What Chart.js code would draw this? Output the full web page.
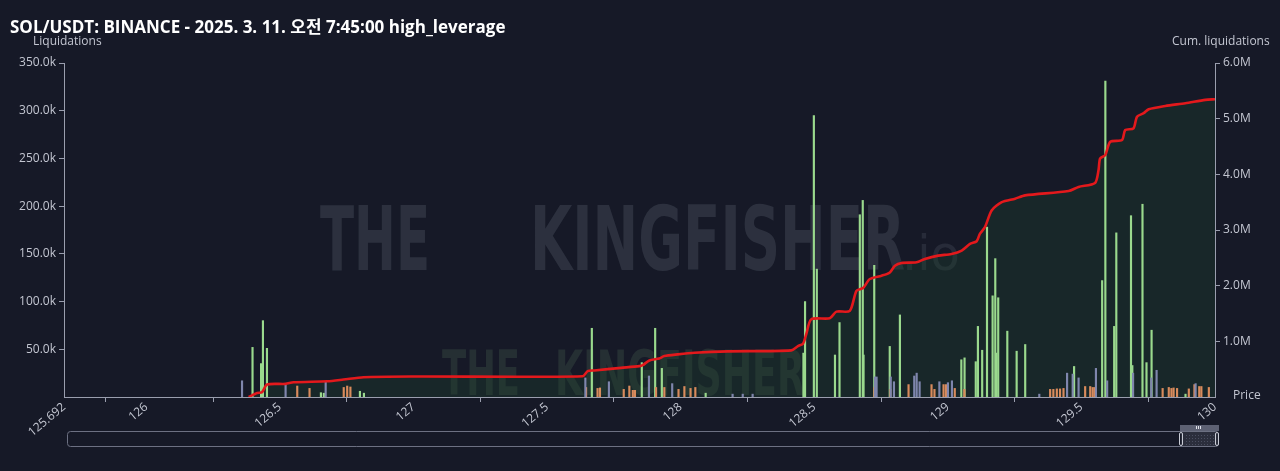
<!DOCTYPE html>
<html>
<head>
<meta charset="utf-8">
<script src="https://cdn.jsdelivr.net/npm/chart.js@4/dist/chart.umd.min.js"></script>
<style>
  html, body { margin: 0; padding: 0; background: #161927; }
  #wrap { width: 1280px; height: 471px; }
</style>
</head>
<body>
<div id="wrap"><canvas id="c" width="1280" height="471"></canvas></div>
<script>
"use strict";
// price axis ticks
const xTicks = [125.692, 126, 126.5, 127, 127.5, 128, 128.5, 129, 129.5, 130];

// liquidation bars (price, value in k)
const greenPrice = [126.392, 126.424, 126.431, 126.446, 126.648, 126.659, 126.794, 126.809,
  127.662, 127.849, 127.899, 127.924, 128.088, 128.454, 128.460, 128.493, 128.504, 128.572,
  128.589, 128.665, 128.676, 128.679, 128.719, 128.777, 128.815, 129.045, 129.057, 129.099,
  129.107, 129.123, 129.141, 129.162, 129.172, 129.176, 129.183, 129.217, 129.252, 129.284,
  129.467, 129.572, 129.584, 129.617, 129.625, 129.680, 129.685, 129.723, 129.738, 129.757, 129.884];
const greenValue = [52, 35, 80, 51, 4.5, 4, 6, 4,
  72, 36, 72, 30, 4, 46, 100, 295, 134, 44,
  78, 191, 206, 44, 138, 53, 86, 39, 41, 37,
  74, 49, 178, 106, 145, 46, 104, 69, 48, 55,
  32, 122, 331, 74, 172, 190, 33, 202, 36, 70, 3];

const orangePrice = [126.565, 126.611, 126.739, 126.752, 126.764, 127.646, 127.689, 127.698,
  127.787, 127.808, 127.821, 127.829, 127.908, 127.939, 127.992, 128.014, 128.037, 128.055,
  128.725, 128.785, 128.853, 128.939, 128.950, 128.984, 128.993, 129.026, 129.062,
  129.383, 129.395, 129.408, 129.420, 129.433, 129.514, 129.533, 129.542, 129.549,
  129.804, 129.827, 129.837, 129.845, 129.858, 129.902, 129.923, 129.941, 129.949, 129.977];
const orangeValue = [11.5, 9, 10, 11.5, 10.5, 10, 9, 9.5,
  8, 11.5, 7, 7, 10, 10, 8, 11, 9, 10,
  10, 8, 13, 13, 8, 13, 13, 9, 8,
  8, 8, 8.5, 8.5, 9, 11, 11, 10, 10,
  9, 10, 9, 9.5, 9, 8.5, 13, 11, 11, 10];

const grayPrice = [126.364, 126.527, 126.677, 127.649, 127.737, 127.887, 127.974, 128.200,
  128.238, 128.275, 128.733, 128.739, 128.792, 128.804, 128.880, 128.889, 128.900, 128.974,
  129.006, 129.021, 129.348, 129.452, 129.473, 129.495, 129.560, 129.602, 129.699, 129.767,
  129.787, 129.933];
const grayValue = [17, 12.6, 16, 20, 16, 22, 14, 3,
  3, 3, 21, 21, 21, 16, 22, 25, 16, 16,
  15, 17, 3, 25, 24, 20, 30, 17, 25, 20,
  28, 14];

// cumulative liquidations (price, value in M)
const cumPrice = [126.383, 126.415, 126.433, 126.452, 126.521, 126.551, 126.677, 126.738, 126.813,
  127.001, 127.633, 127.652, 127.677, 127.777, 127.845, 127.858, 127.883, 127.920, 127.939,
  127.989, 128.052, 128.177, 128.414, 128.439, 128.458, 128.470, 128.489, 128.558, 128.583,
  128.633, 128.658, 128.683, 128.708, 128.752, 128.783, 128.802, 128.827, 128.883, 128.914,
  128.964, 129.014, 129.052, 129.083, 129.108, 129.120, 129.139, 129.164, 129.202, 129.252,
  129.289, 129.452, 129.489, 129.551, 129.564, 129.570, 129.589, 129.608, 129.652, 129.664,
  129.695, 129.708, 129.733, 129.752, 129.814, 129.889, 129.964, 130.0];
const cumValue = [0, 0.072, 0.085, 0.224, 0.235, 0.265, 0.283, 0.314, 0.356,
  0.368, 0.374, 0.464, 0.477, 0.523, 0.554, 0.572, 0.657, 0.693, 0.735,
  0.765, 0.794, 0.820, 0.838, 0.915, 0.957, 1.126, 1.397, 1.415, 1.534,
  1.547, 1.908, 1.957, 2.119, 2.179, 2.238, 2.359, 2.408, 2.419, 2.480,
  2.540, 2.570, 2.630, 2.751, 2.798, 2.931, 3.051, 3.352, 3.502, 3.563,
  3.622, 3.700, 3.773, 3.845, 4.074, 4.285, 4.345, 4.585, 4.616, 4.796,
  4.827, 5.036, 5.098, 5.170, 5.229, 5.278, 5.338, 5.350];

const TITLE = "SOL/USDT: BINANCE - 2025. 3. 11. 오전 7:45:00 high_leverage";
const FONT = '"Open Sans", "Noto Sans", "Noto Sans CJK KR", sans-serif';
const AXIS = "#9a9eae", TICK = "#c3c6d1", BG = "#161927";

const pts = (xs, ys) => xs.map((x, i) => ({ x, y: ys[i] }));

/* background, watermark, title, axis captions, range slider */
const decor = {
  id: "decor",
  beforeDraw(chart) {
    const ctx = chart.ctx;
    ctx.save();
    ctx.fillStyle = BG; ctx.fillRect(0, 0, chart.width, chart.height);
    const mark = (txt, x0, base, w, size, col) => {
      ctx.font = `bold ${size}px "DejaVu Sans"`;
      const m = ctx.measureText(txt).width;
      ctx.save(); ctx.translate(x0, base); ctx.scale(w / m, 1);
      ctx.fillStyle = col; ctx.fillText(txt, 0, 0); ctx.restore();
    };
    ctx.textBaseline = "alphabetic";
    mark("THE", 320, 270, 110, 89, "rgba(72,77,92,0.45)");
    mark("KINGFISHER", 530, 270, 375, 89, "rgba(72,77,92,0.45)");
    ctx.font = `48px "DejaVu Sans"`; ctx.fillStyle = "rgba(72,77,92,0.35)";
    ctx.fillText(".io", 902, 270);
    mark("THE", 442, 395, 78, 62, "rgba(60,80,70,0.40)");
    mark("KINGFISHER", 555, 395, 250, 62, "rgba(60,80,70,0.40)");
    ctx.restore();
  },
  afterDraw(chart) {
    const ctx = chart.ctx;
    ctx.save();
    ctx.fillStyle = "#ffffff";
    ctx.font = `bold 17px ${FONT}`;
    ctx.textBaseline = "middle"; ctx.textAlign = "left";
    ctx.fillText(TITLE, 10, 28);
    ctx.fillStyle = TICK; ctx.font = `12px ${FONT}`;
    ctx.fillText("Liquidations", 33, 42);
    ctx.fillText("Cum. liquidations", 1172, 42);
    ctx.fillText("Price", 1233, 396);
    // slider
    ctx.strokeStyle = "#6c7082"; ctx.lineWidth = 1;
    ctx.beginPath(); ctx.roundRect(67.5, 431.5, 1151, 15, 3); ctx.stroke();
    ctx.fillStyle = "#2b2e3c"; ctx.fillRect(1181, 432, 37, 14);
    ctx.setLineDash([1, 2]); ctx.strokeStyle = "#4a4e60";
    for (let y = 435; y < 445; y += 3) { ctx.beginPath(); ctx.moveTo(1186, y + 0.5); ctx.lineTo(1214, y + 0.5); ctx.stroke(); }
    ctx.setLineDash([]);
    ctx.fillStyle = "#5d6173"; ctx.fillRect(1180, 425, 39, 6);
    ctx.fillStyle = "#e0e2ea";
    for (const x of [1196, 1198, 1200]) ctx.fillRect(x, 426, 1, 3);
    ctx.strokeStyle = "#c9ccd6";
    ctx.beginPath(); ctx.roundRect(1179.5, 432.5, 3, 13, 1.5); ctx.stroke();
    ctx.beginPath(); ctx.roundRect(1215.5, 432.5, 3, 13, 1.5); ctx.stroke();
    ctx.restore();
  }
};

const barDs = (label, data, color) => ({
  type: "bar", label, data, yAxisID: "y", backgroundColor: color,
  barThickness: 1.5, borderWidth: 0, order: 1
});

new Chart(document.getElementById("c"), {
  type: "bar",
  data: {
    datasets: [
      { type: "line", label: "Cum. liquidations", data: pts(cumPrice, cumValue), yAxisID: "y2",
        borderColor: "#e3191c", borderWidth: 2.6, pointRadius: 0, tension: 0.25,
        fill: "origin", backgroundColor: "rgba(32,72,46,0.32)", order: 0 },
      barDs("gray", pts(grayPrice, grayValue), "#7f86ad"),
      barDs("orange", pts(orangePrice, orangeValue), "#d98b5c"),
      barDs("green", pts(greenPrice, greenValue), "#9ad98d"),
    ]
  },
  options: {
    responsive: false, animation: false,
    layout: { padding: { top: 63, left: 0, right: 0, bottom: 0 } },
    plugins: { legend: { display: false }, tooltip: { enabled: false },
      filler: { drawTime: "beforeDatasetsDraw" } },
    scales: {
      x: {
        type: "linear", min: 125.692, max: 130, offset: false,
        afterBuildTicks: (s) => { s.ticks = xTicks.map((v) => ({ value: v })); },
        afterFit: (s) => { s.height = 74; },
        ticks: { color: TICK, font: { family: FONT, size: 12 }, minRotation: 40, maxRotation: 40,
          padding: -2, callback: (v) => String(v) },
        grid: { display: true, drawOnChartArea: false, drawTicks: true, tickLength: 5, color: AXIS },
        border: { display: true, color: AXIS }
      },
      y: {
        position: "left", min: 0, max: 350,
        afterBuildTicks: (s) => { s.ticks = [50, 100, 150, 200, 250, 300, 350].map((v) => ({ value: v })); },
        afterFit: (s) => { s.width = 64; },
        ticks: { color: TICK, font: { family: FONT, size: 12 }, padding: 3,
          callback: (v) => v.toFixed(1) + "k" },
        grid: { display: true, drawOnChartArea: false, drawTicks: true, tickLength: 5, color: AXIS },
        border: { display: true, color: AXIS }
      },
      y2: {
        position: "right", min: 0, max: 6,
        afterBuildTicks: (s) => { s.ticks = [1, 2, 3, 4, 5, 6].map((v) => ({ value: v })); },
        afterFit: (s) => { s.width = 65; },
        ticks: { color: TICK, font: { family: FONT, size: 12 }, padding: 3,
          callback: (v) => v.toFixed(1) + "M" },
        grid: { display: true, drawOnChartArea: false, drawTicks: true, tickLength: 5, color: AXIS },
        border: { display: true, color: AXIS }
      }
    }
  },
  plugins: [decor]
});
</script>
</body>
</html>
